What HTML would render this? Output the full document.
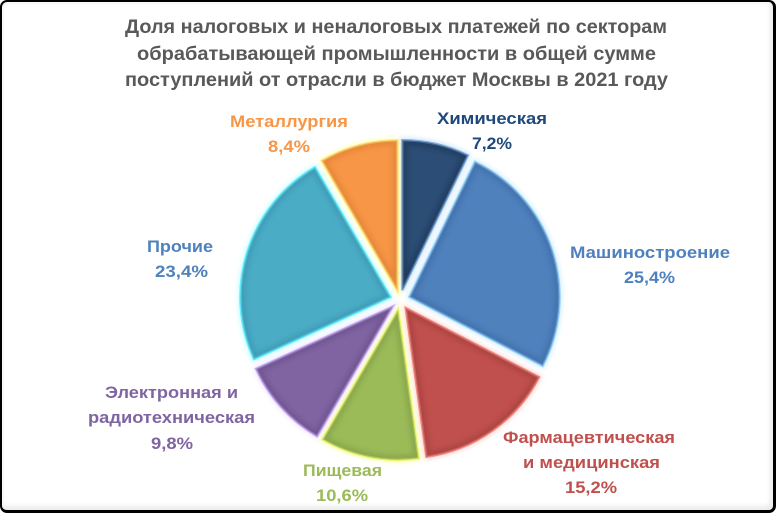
<!DOCTYPE html>
<html>
<head>
<meta charset="utf-8">
<style>
  html,body{margin:0;padding:0;background:#fff;}
  body{width:776px;height:513px;position:relative;overflow:hidden;}
  .frame{position:absolute;left:0;top:0;width:771px;height:508px;
    border-top:2px solid #000;border-left:2px solid #000;border-right:3px solid #000;border-bottom:3px solid #000;
    border-radius:7px;background:#fff;box-shadow:inset -5px -6px 5px -2px #ececec, inset 3px 3px 5px -2px #f2f2f2;}
  svg{position:absolute;left:0;top:0;}
  text{font-family:"Liberation Sans",Arial,sans-serif;font-weight:bold;}
</style>
</head>
<body>
<div class="frame"></div>
<svg width="776" height="513" viewBox="0 0 776 513" xmlns="http://www.w3.org/2000/svg">
  <defs>
    <filter id="glow" x="-30%" y="-30%" width="160%" height="160%">
      <feGaussianBlur stdDeviation="2.5"/>
    </filter>
    <filter id="bev" x="-10%" y="-10%" width="120%" height="120%">
      <feGaussianBlur stdDeviation="2.5"/>
    </filter>
    <clipPath id="c1"><path d="M402.24,290.25 L402.24,140.25 A150,150 0 0 1 467.81,155.34 Z"/></clipPath>
    <clipPath id="c2"><path d="M409.49,296.85 L475.06,161.94 A150,150 0 0 1 542.72,365.79 Z"/></clipPath>
    <clipPath id="c3"><path d="M405.78,308.16 L539.01,377.10 A150,150 0 0 1 426.45,456.73 Z"/></clipPath>
    <clipPath id="c4"><path d="M398.06,309.81 L418.73,458.38 A150,150 0 0 1 322.52,439.40 Z"/></clipPath>
    <clipPath id="c5"><path d="M392.58,306.70 L317.04,436.29 A150,150 0 0 1 256.05,368.85 Z"/></clipPath>
    <clipPath id="c6"><path d="M390.47,296.97 L253.94,359.12 A150,150 0 0 1 314.93,167.38 Z"/></clipPath>
    <clipPath id="c7"><path d="M397.39,290.35 L321.85,160.76 A150,150 0 0 1 397.39,140.35 Z"/></clipPath>
  </defs>

  <!-- Химическая -->
  <g>
    <path d="M402.24,290.25 L402.24,140.25 A150,150 0 0 1 467.81,155.34 Z" fill="#b8d6f4" stroke="#b8d6f4" stroke-width="5" filter="url(#glow)" opacity="0.65"/>
    <path d="M402.24,290.25 L402.24,140.25 A150,150 0 0 1 467.81,155.34 Z" fill="#2c4d75" stroke="#7eaee0" stroke-width="2.5"/>
    <g clip-path="url(#c1)"><path d="M402.24,290.25 L402.24,140.25 A150,150 0 0 1 467.81,155.34 Z" fill="none" stroke="#1c3556" stroke-width="10" filter="url(#bev)" opacity="0.6"/></g>
  </g>
  <!-- Машиностроение -->
  <g>
    <path d="M409.49,296.85 L475.06,161.94 A150,150 0 0 1 542.72,365.79 Z" fill="#bfe6ff" stroke="#bfe6ff" stroke-width="5" filter="url(#glow)" opacity="0.7"/>
    <path d="M409.49,296.85 L475.06,161.94 A150,150 0 0 1 542.72,365.79 Z" fill="#4f81bd" stroke="#94d0f8" stroke-width="2.5"/>
    <g clip-path="url(#c2)"><path d="M409.49,296.85 L475.06,161.94 A150,150 0 0 1 542.72,365.79 Z" fill="none" stroke="#3e6ca6" stroke-width="10" filter="url(#bev)" opacity="0.6"/></g>
  </g>
  <!-- Фармацевтическая -->
  <g>
    <path d="M405.78,308.16 L539.01,377.10 A150,150 0 0 1 426.45,456.73 Z" fill="#ffc4be" stroke="#ffc4be" stroke-width="5" filter="url(#glow)" opacity="0.65"/>
    <path d="M405.78,308.16 L539.01,377.10 A150,150 0 0 1 426.45,456.73 Z" fill="#c0504d" stroke="#f48a84" stroke-width="2.5"/>
    <g clip-path="url(#c3)"><path d="M405.78,308.16 L539.01,377.10 A150,150 0 0 1 426.45,456.73 Z" fill="none" stroke="#a03c3a" stroke-width="10" filter="url(#bev)" opacity="0.55"/></g>
  </g>
  <!-- Пищевая -->
  <g>
    <path d="M398.06,309.81 L418.73,458.38 A150,150 0 0 1 322.52,439.40 Z" fill="#f8ff9a" stroke="#f8ff9a" stroke-width="5" filter="url(#glow)" opacity="0.7"/>
    <path d="M398.06,309.81 L418.73,458.38 A150,150 0 0 1 322.52,439.40 Z" fill="#9bbb59" stroke="#eaf870" stroke-width="2.5"/>
    <g clip-path="url(#c4)"><path d="M398.06,309.81 L418.73,458.38 A150,150 0 0 1 322.52,439.40 Z" fill="none" stroke="#7e9a44" stroke-width="10" filter="url(#bev)" opacity="0.55"/></g>
  </g>
  <!-- Электронная -->
  <g>
    <path d="M392.58,306.70 L317.04,436.29 A150,150 0 0 1 256.05,368.85 Z" fill="#eadbff" stroke="#eadbff" stroke-width="5" filter="url(#glow)" opacity="0.7"/>
    <path d="M392.58,306.70 L317.04,436.29 A150,150 0 0 1 256.05,368.85 Z" fill="#8064a2" stroke="#c8aaf4" stroke-width="2.5"/>
    <g clip-path="url(#c5)"><path d="M392.58,306.70 L317.04,436.29 A150,150 0 0 1 256.05,368.85 Z" fill="none" stroke="#654d86" stroke-width="10" filter="url(#bev)" opacity="0.55"/></g>
  </g>
  <!-- Прочие -->
  <g>
    <path d="M390.47,296.97 L253.94,359.12 A150,150 0 0 1 314.93,167.38 Z" fill="#aaffff" stroke="#aaffff" stroke-width="5" filter="url(#glow)" opacity="0.7"/>
    <path d="M390.47,296.97 L253.94,359.12 A150,150 0 0 1 314.93,167.38 Z" fill="#4bacc6" stroke="#66eeff" stroke-width="2.5"/>
    <g clip-path="url(#c6)"><path d="M390.47,296.97 L253.94,359.12 A150,150 0 0 1 314.93,167.38 Z" fill="none" stroke="#3890aa" stroke-width="10" filter="url(#bev)" opacity="0.5"/></g>
  </g>
  <!-- Металлургия -->
  <g>
    <path d="M397.39,290.35 L321.85,160.76 A150,150 0 0 1 397.39,140.35 Z" fill="#ffffa8" stroke="#ffffa8" stroke-width="5" filter="url(#glow)" opacity="0.7"/>
    <path d="M397.39,290.35 L321.85,160.76 A150,150 0 0 1 397.39,140.35 Z" fill="#f79646" stroke="#ffe47a" stroke-width="2.5"/>
    <g clip-path="url(#c7)"><path d="M397.39,290.35 L321.85,160.76 A150,150 0 0 1 397.39,140.35 Z" fill="none" stroke="#d97a30" stroke-width="10" filter="url(#bev)" opacity="0.5"/></g>
  </g>

  <!-- Title -->
  <g fill="#595959" font-size="19.5">
    <text x="125" y="33" textLength="542" lengthAdjust="spacingAndGlyphs">Доля налоговых и неналоговых платежей по секторам</text>
    <text x="137" y="60" textLength="519" lengthAdjust="spacingAndGlyphs">обрабатывающей промышленности в общей сумме</text>
    <text x="125" y="86" textLength="543" lengthAdjust="spacingAndGlyphs">поступлений от отрасли в бюджет Москвы в 2021 году</text>
  </g>

  <!-- Labels -->
  <g font-size="17">
    <g fill="#f79646">
      <text x="230" y="127" textLength="118" lengthAdjust="spacingAndGlyphs">Металлургия</text>
      <text x="268" y="152" textLength="42" lengthAdjust="spacingAndGlyphs">8,4%</text>
    </g>
    <g fill="#1f497d">
      <text x="437" y="124" textLength="110" lengthAdjust="spacingAndGlyphs">Химическая</text>
      <text x="472" y="149" textLength="40" lengthAdjust="spacingAndGlyphs">7,2%</text>
    </g>
    <g fill="#4f81bd">
      <text x="570" y="258" textLength="160" lengthAdjust="spacingAndGlyphs">Машиностроение</text>
      <text x="624" y="283" textLength="51" lengthAdjust="spacingAndGlyphs">25,4%</text>
      <text x="147" y="252" textLength="66" lengthAdjust="spacingAndGlyphs">Прочие</text>
      <text x="155" y="277" textLength="53" lengthAdjust="spacingAndGlyphs">23,4%</text>
    </g>
    <g fill="#c0504d">
      <text x="503" y="443" textLength="172" lengthAdjust="spacingAndGlyphs">Фармацевтическая</text>
      <text x="523" y="468" textLength="137" lengthAdjust="spacingAndGlyphs">и медицинская</text>
      <text x="565" y="493" textLength="52" lengthAdjust="spacingAndGlyphs">15,2%</text>
    </g>
    <g fill="#9bbb59">
      <text x="303" y="476" textLength="79" lengthAdjust="spacingAndGlyphs">Пищевая</text>
      <text x="316" y="501" textLength="52" lengthAdjust="spacingAndGlyphs">10,6%</text>
    </g>
    <g fill="#8064a2">
      <text x="105" y="398" textLength="133" lengthAdjust="spacingAndGlyphs">Электронная  и</text>
      <text x="88" y="423" textLength="167" lengthAdjust="spacingAndGlyphs">радиотехническая</text>
      <text x="151" y="449" textLength="42" lengthAdjust="spacingAndGlyphs">9,8%</text>
    </g>
  </g>
</svg>
</body>
</html>
